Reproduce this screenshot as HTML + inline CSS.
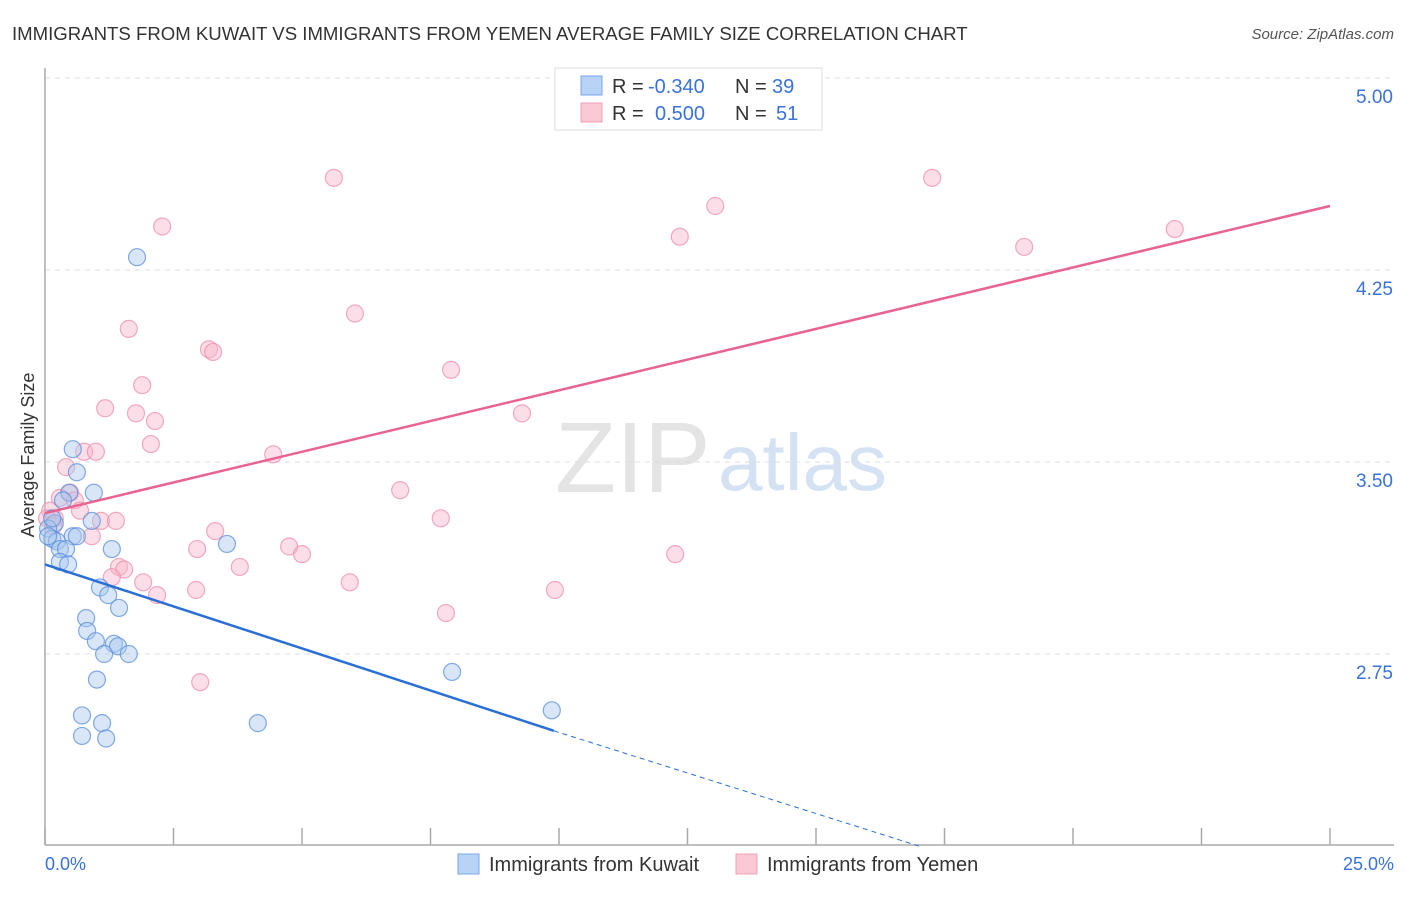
<!DOCTYPE html>
<html><head><meta charset="utf-8"><style>
body{margin:0;background:#fff;font-family:"Liberation Sans",sans-serif;}
svg text{font-family:"Liberation Sans",sans-serif;}
</style></head><body>
<svg id="chart" width="1406" height="892" xmlns="http://www.w3.org/2000/svg">
<text x="12" y="40" font-size="18.6" fill="#333">IMMIGRANTS FROM KUWAIT VS IMMIGRANTS FROM YEMEN AVERAGE FAMILY SIZE CORRELATION CHART</text>
<text x="1394" y="39" font-size="15" fill="#555" font-style="italic" text-anchor="end">Source: ZipAtlas.com</text>
<text x="555" y="492" font-size="100" fill="#e4e4e4" font-family="Liberation Serif">ZIP</text>
<text x="718" y="490" font-size="80" fill="#d4e2f4">atlas</text>
<g id="grid"></g><g id="axes"></g><g id="marks"></g>
<text transform="translate(34,455) rotate(-90)" font-size="18" fill="#333" text-anchor="middle">Average Family Size</text>
<text x="45" y="870" font-size="18" fill="#3a72d8">0.0%</text>
<text x="1394" y="870" font-size="18" fill="#3a72d8" text-anchor="end">25.0%</text>
<g>
<rect x="555" y="68" width="267" height="62" fill="#fff" stroke="#ddd"/>
<rect x="581" y="76" width="21" height="19" fill="#b8d3f5" stroke="#7aa7e6"/>
<rect x="581" y="103" width="21" height="19" fill="#fbc8d6" stroke="#f0a0b8"/>
<text x="612" y="93" font-size="20" fill="#333">R =</text>
<text x="648" y="93" font-size="20" fill="#3a72d8">-0.340</text>
<text x="735" y="93" font-size="20" fill="#333">N =</text>
<text x="772" y="93" font-size="20" fill="#3a72d8">39</text>
<text x="612" y="120" font-size="20" fill="#333">R =</text>
<text x="655" y="120" font-size="20" fill="#3a72d8">0.500</text>
<text x="735" y="120" font-size="20" fill="#333">N =</text>
<text x="776" y="120" font-size="20" fill="#3a72d8">51</text>
</g>
<g><rect x="458" y="854" width="21" height="20" fill="#b8d3f5" stroke="#7aa7e6"/><text x="489" y="871" font-size="20" fill="#333">Immigrants from Kuwait</text></g>
<g><rect x="736" y="854" width="21" height="20" fill="#fbc8d6" stroke="#f0a0b8"/><text x="767" y="871" font-size="20" fill="#333">Immigrants from Yemen</text></g>
</svg>
<script>
const yTicks=[5.00,4.25,3.50,2.75];
const xTicks=[0,2.5,5,7.5,10,12.5,15,17.5,20,22.5,25];
const kuwaitX=[1.79,0.54,0.62,0.47,0.95,0.35,0.91,0.19,0.06,0.54,0.62,0.14,0.23,0.29,0.41,1.30,3.54,0.29,0.45,1.07,1.23,1.44,0.80,0.82,0.99,1.34,1.42,1.15,1.63,1.01,7.92,0.72,1.11,4.14,0.72,1.19,9.86,0.06,0.14];
const kuwaitY=[4.30,3.55,3.46,3.38,3.38,3.35,3.27,3.26,3.24,3.21,3.21,3.20,3.19,3.16,3.16,3.16,3.18,3.11,3.10,3.01,2.98,2.93,2.89,2.84,2.80,2.79,2.78,2.75,2.75,2.65,2.68,2.51,2.48,2.48,2.43,2.42,2.53,3.21,3.28];
const yemenX=[5.62,17.26,13.04,2.28,21.98,12.35,19.05,6.03,1.63,3.19,3.27,7.90,1.89,1.17,1.77,9.28,2.14,2.06,0.76,0.99,4.44,0.41,0.49,6.91,0.29,0.58,0.10,0.68,0.19,7.70,1.09,1.38,3.31,0.91,4.75,2.96,5.00,12.26,3.79,1.44,1.54,1.30,1.91,5.93,2.18,2.94,9.92,7.80,3.02,0.04,0.16];
const yemenY=[4.61,4.61,4.50,4.42,4.41,4.38,4.34,4.08,4.02,3.94,3.93,3.86,3.80,3.71,3.69,3.69,3.66,3.57,3.54,3.54,3.53,3.48,3.38,3.39,3.36,3.35,3.31,3.31,3.28,3.28,3.27,3.27,3.23,3.21,3.17,3.16,3.14,3.14,3.09,3.09,3.08,3.05,3.03,3.03,2.98,3.00,3.00,2.91,2.64,3.28,3.25];
const kuwaitTrendX=[0,9.9,17.0];
const kuwaitTrendY=[3.10,2.45,2.0];
const yemenTrendX=[0,25];
const yemenTrendY=[3.30,4.50];
const NS='http://www.w3.org/2000/svg';
const sx=v=>45+v*51.4;
const sy=v=>78+(5-v)*256;
function mk(tag,attrs,parent){const e=document.createElementNS(NS,tag);for(const k in attrs)e.setAttribute(k,attrs[k]);document.getElementById(parent).appendChild(e);return e;}
yTicks.forEach(t=>{
 const l=mk('line',{x1:45,x2:1394,y1:sy(t),y2:sy(t),stroke:'#ddd','stroke-dasharray':'5,5'},'grid');
 
 
 const tx=mk('text',{x:1393,y:sy(t)+25,'font-size':19,fill:'#3a72d8','text-anchor':'end'},'grid');
 tx.textContent=t.toFixed(2);
 
 
});
const ya=mk('line',{x1:45,x2:45,y1:68,y2:845,stroke:'#aaa','stroke-width':1.5},'axes');


const xa=mk('line',{x1:45,x2:1394,y1:845,y2:845,stroke:'#aaa','stroke-width':1.5},'axes');


xTicks.forEach(t=>{
 const l=mk('line',{x1:sx(t),x2:sx(t),y1:828,y2:845,stroke:'#aaa','stroke-width':1.5},'axes');
 
 
});
function dots(X,Y,fill,stroke,name){X.forEach((x,i)=>{
 const c=mk('circle',{cx:sx(x),cy:sy(Y[i]),r:8.5,fill:fill,'fill-opacity':0.45,stroke:stroke,'stroke-opacity':0.75,'stroke-width':1.2},'marks');
 
 
});}
dots(yemenX,yemenY,'#f7b6c9','#ee8fab','yemen-point');
dots(kuwaitX,kuwaitY,'#a9c8f0','#5b8fd9','kuwait-point');
const kl=mk('line',{x1:sx(kuwaitTrendX[0]),y1:sy(kuwaitTrendY[0]),x2:sx(kuwaitTrendX[1]),y2:sy(kuwaitTrendY[1]),stroke:'#2a6fd6','stroke-width':2.5},'marks');


const kd=mk('line',{x1:sx(kuwaitTrendX[1]),y1:sy(kuwaitTrendY[1]),x2:sx(kuwaitTrendX[2]),y2:sy(kuwaitTrendY[2]),stroke:'#2a6fd6','stroke-width':1,'stroke-dasharray':'5,4'},'marks');


const yl=mk('line',{x1:sx(yemenTrendX[0]),y1:sy(yemenTrendY[0]),x2:sx(yemenTrendX[1]),y2:sy(yemenTrendY[1]),stroke:'#e8638f','stroke-width':2.5},'marks');


</script>
</body></html>
